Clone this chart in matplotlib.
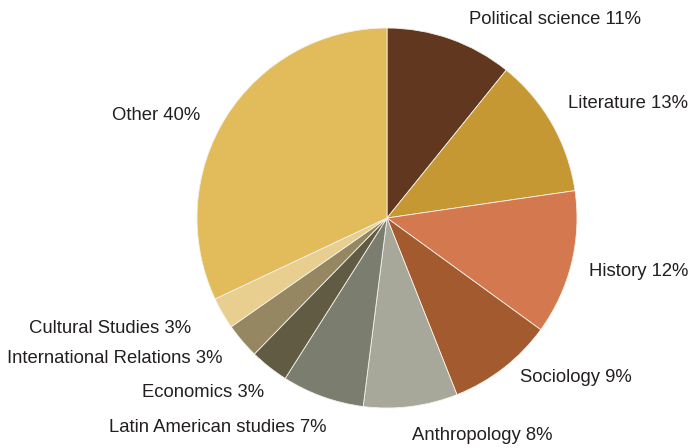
import matplotlib
matplotlib.use("Agg")
import matplotlib.pyplot as plt

plt.rcParams['font.family'] = ['Liberation Sans Narrow', 'Liberation Sans', 'DejaVu Sans']

# slice sizes (clockwise from 12 o'clock)
fields = ["Political science", "Literature", "History", "Sociology", "Anthropology",
          "Latin American studies", "Economics", "International Relations",
          "Cultural Studies", "Other"]
shares = [10.8, 11.9, 12.3, 9.0, 8.0, 7.0, 3.3, 3.0, 2.7, 32.0]
labels_pct = ["11%", "13%", "12%", "9%", "8%", "7%", "3%", "3%", "3%", "40%"]
colors = ["#613720", "#c59833", "#d4784f", "#a35a2e", "#a7a89a",
          "#7b7d6f", "#625b43", "#958762", "#e8cf8f", "#e2bb5a"]

# label anchors (axes data units, pie radius = 1) and alignment
label_pos = [(0.43, 1.047, "left"), (0.953, 0.605, "left"), (1.063, -0.284, "left"),
             (0.70, -0.842, "left"), (0.132, -1.147, "left"), (-0.321, -1.105, "right"),
             (-0.647, -0.921, "right"), (-0.868, -0.742, "right"), (-1.032, -0.579, "right"),
             (-0.984, 0.537, "right")]

fig = plt.figure(figsize=(6.91, 4.48), dpi=100)
ax = fig.add_axes([197 / 691, 40 / 448, 380 / 691, 380 / 448])

ax.pie(shares, colors=colors, startangle=90, counterclock=False, radius=1,
       wedgeprops=dict(edgecolor="#f4f1ea", linewidth=0.6))

for name, pct, (x, y, ha) in zip(fields, labels_pct, label_pos):
    ax.text(x, y, f"{name} {pct}", ha=ha, va="center", fontsize=13.3, color="#231f20")

ax.set_xlim(-1, 1)
ax.set_ylim(-1, 1)
ax.set_aspect("equal")
ax.axis("off")

fig.savefig("out.png", dpi=100)
